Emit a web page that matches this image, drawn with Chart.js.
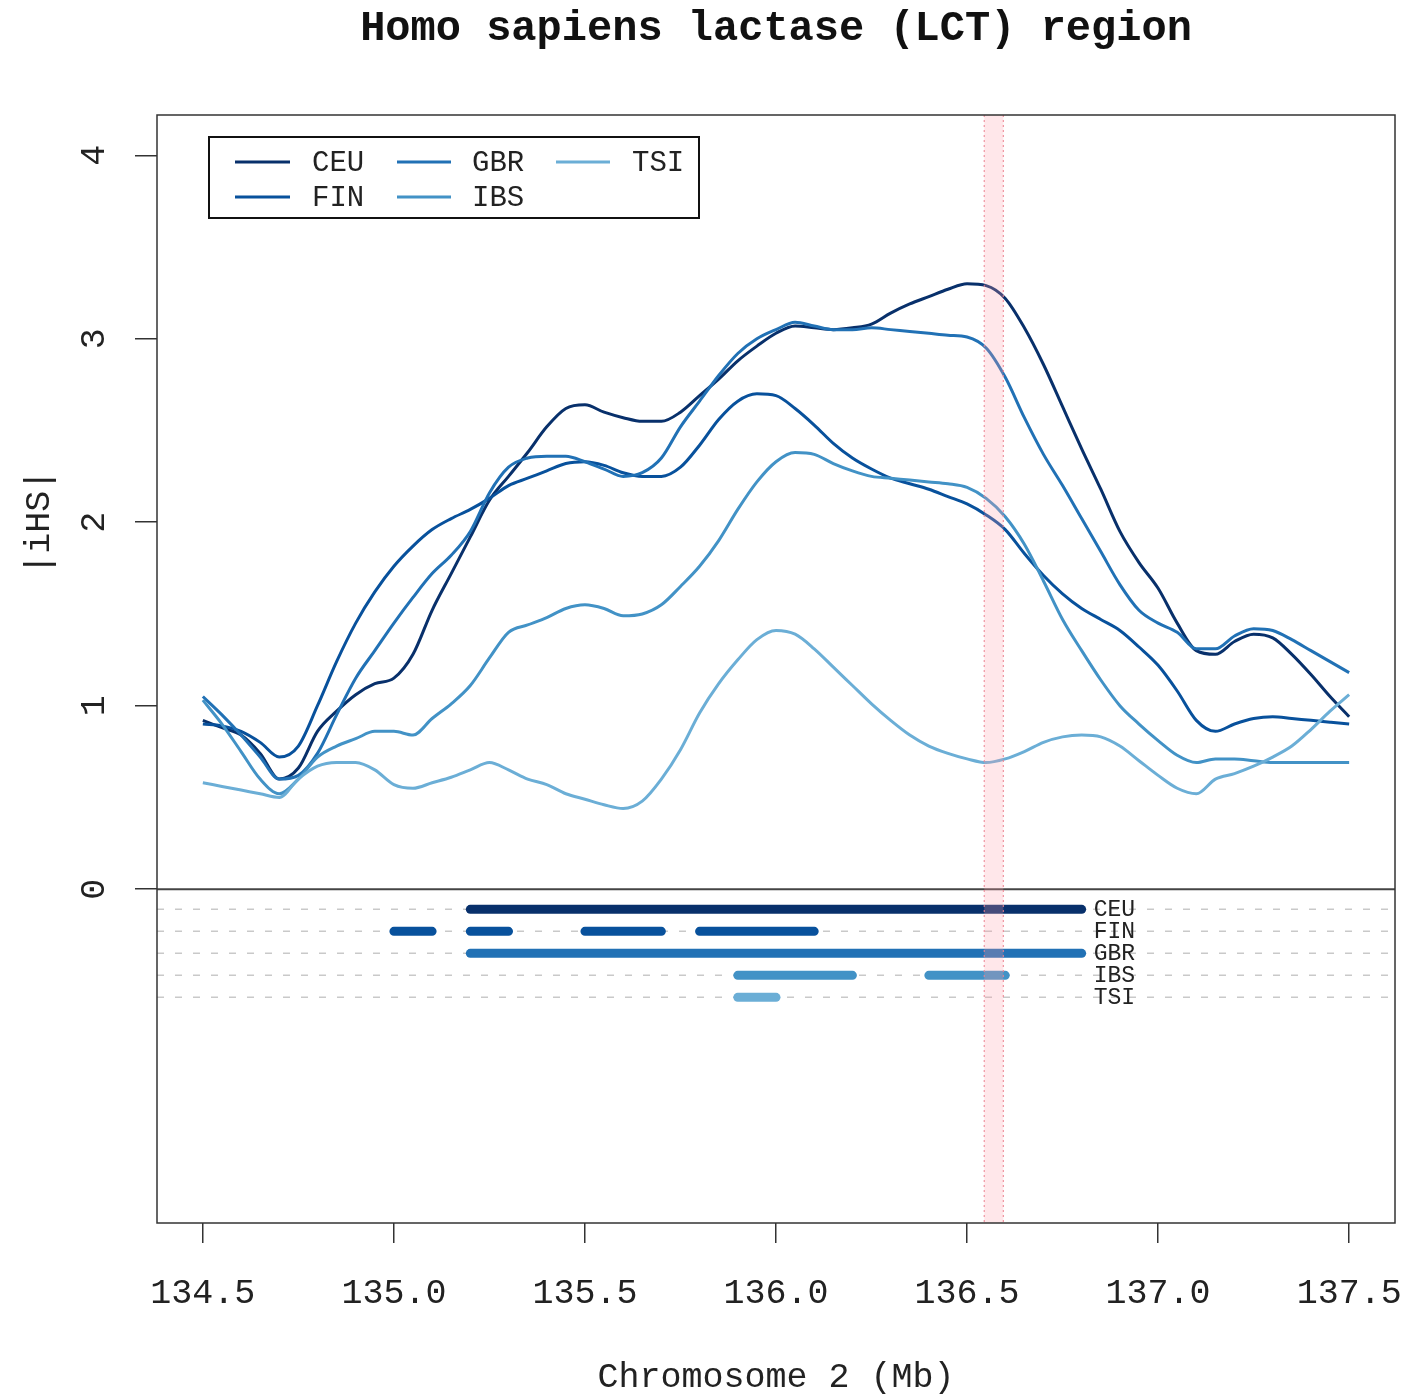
<!DOCTYPE html>
<html><head><meta charset="utf-8">
<script src="https://cdn.jsdelivr.net/npm/chart.js@4.4.1/dist/chart.umd.min.js"></script>
<style>html,body{margin:0;padding:0;background:#fff;}canvas{display:block}</style>
</head><body>
<canvas id="c" width="1408" height="1397"></canvas>
<script>
// ---------- data ----------
const positions = [134.50,134.55,134.60,134.65,134.70,134.75,134.80,134.85,134.90,134.95,
  135.00,135.05,135.10,135.15,135.20,135.25,135.30,135.35,135.40,135.45,
  135.50,135.55,135.60,135.65,135.70,135.75,135.80,135.85,135.90,135.95,
  136.00,136.05,136.10,136.15,136.20,136.25,136.30,136.35,136.40,136.45,
  136.50,136.55,136.60,136.65,136.70,136.75,136.80,136.85,136.90,136.95,
  137.00,137.05,137.10,137.15,137.20,137.25,137.30,137.35,137.40,137.45,137.50];

const populations = ['CEU','FIN','GBR','IBS','TSI'];
const popColors = ['#08306B','#08519C','#2171B5','#4292C6','#6BAED6'];

const ceuIHS = [0.92,0.88,0.84,0.74,0.60,0.66,0.86,0.97,1.06,1.12,
  1.15,1.28,1.52,1.72,1.92,2.12,2.25,2.38,2.52,2.62,
  2.64,2.60,2.57,2.55,2.55,2.60,2.69,2.78,2.88,2.96,
  3.03,3.07,3.06,3.05,3.06,3.08,3.14,3.19,3.23,3.27,
  3.30,3.29,3.22,3.06,2.86,2.63,2.40,2.18,1.95,1.78,
  1.64,1.45,1.30,1.28,1.35,1.39,1.37,1.28,1.17,1.05,0.94];

const finIHS = [0.90,0.89,0.86,0.80,0.72,0.78,1.00,1.24,1.45,1.62,
  1.76,1.87,1.96,2.02,2.07,2.13,2.20,2.24,2.28,2.32,
  2.33,2.31,2.27,2.25,2.25,2.30,2.42,2.56,2.66,2.70,
  2.69,2.62,2.53,2.43,2.35,2.29,2.24,2.21,2.18,2.14,
  2.10,2.04,1.96,1.83,1.71,1.61,1.53,1.47,1.41,1.32,
  1.22,1.08,0.92,0.86,0.90,0.93,0.94,0.93,0.92,0.91,0.90];

const gbrIHS = [1.05,0.95,0.84,0.72,0.60,0.62,0.74,0.95,1.15,1.30,
  1.45,1.59,1.72,1.82,1.95,2.16,2.30,2.35,2.36,2.36,
  2.33,2.29,2.25,2.27,2.35,2.52,2.66,2.80,2.92,3.00,
  3.05,3.09,3.07,3.05,3.05,3.06,3.05,3.04,3.03,3.02,
  3.01,2.95,2.79,2.57,2.37,2.20,2.02,1.84,1.66,1.52,
  1.45,1.40,1.31,1.31,1.38,1.42,1.41,1.36,1.30,1.24,1.18];

const ibsIHS = [1.03,0.90,0.75,0.60,0.52,0.60,0.72,0.78,0.82,0.86,
  0.86,0.84,0.93,1.01,1.11,1.26,1.40,1.44,1.48,1.53,
  1.55,1.53,1.49,1.50,1.55,1.65,1.76,1.90,2.07,2.22,
  2.33,2.38,2.37,2.32,2.28,2.25,2.24,2.23,2.22,2.21,
  2.19,2.13,2.03,1.88,1.68,1.47,1.30,1.14,1.00,0.90,
  0.81,0.73,0.69,0.71,0.71,0.70,0.69,0.69,0.69,0.69,0.69];

const tsiIHS = [0.58,0.56,0.54,0.52,0.50,0.60,0.67,0.69,0.69,0.65,
  0.57,0.55,0.58,0.61,0.65,0.69,0.65,0.60,0.57,0.52,
  0.49,0.46,0.44,0.48,0.60,0.76,0.96,1.12,1.25,1.36,
  1.41,1.39,1.31,1.21,1.11,1.01,0.92,0.84,0.78,0.74,
  0.71,0.69,0.71,0.75,0.80,0.83,0.84,0.83,0.78,0.70,
  0.62,0.55,0.52,0.60,0.63,0.67,0.72,0.78,0.87,0.97,1.06];

// significant windows (Mb) per population
const ceuSegments = [[135.2,136.8]];
const finSegments = [[135.0,135.1],[135.2,135.3],[135.5,135.7],[135.8,136.1]];
const gbrSegments = [[135.2,136.8]];
const ibsSegments = [[135.9,136.2],[136.4,136.6]];
const tsiSegments = [[135.9,136.0]];
const trackRows = [-0.11,-0.23,-0.35,-0.47,-0.59];

const lctGene = [136.545, 136.595];
const xTicks = [134.5,135.0,135.5,136.0,136.5,137.0,137.5];
const yTicks = [0,1,2,3,4];
const xRange = [134.38,137.62];
const yRange = [-1.82,4.22];

const titleText = 'Homo sapiens lactase (LCT) region';
const xTitle = 'Chromosome 2 (Mb)';
const yTitle = '|iHS|';

// ---------- build datasets ----------
const FONT = '"Liberation Mono", "Courier New", monospace';
Chart.defaults.font.family = FONT;

const seriesVals = [ceuIHS, finIHS, gbrIHS, ibsIHS, tsiIHS];
const segmentSets = [ceuSegments, finSegments, gbrSegments, ibsSegments, tsiSegments];

const datasets = [];
// dashed guide rows
trackRows.forEach(r => datasets.push({
  data:[{x:xRange[0],y:r},{x:xRange[1],y:r}],
  borderColor:'#c9c9c9', borderWidth:1.5, borderDash:[7,11], pointRadius:0, order:100
}));
// zero line
datasets.push({data:[{x:xRange[0],y:0},{x:xRange[1],y:0}], borderColor:'#444', borderWidth:2, pointRadius:0, order:90});
// tracks
segmentSets.forEach((segs,i) => {
  const pts = [];
  segs.forEach((s,k) => {
    if (k>0) pts.push({x:(segs[k-1][1]+s[0])/2, y:null});
    pts.push({x:s[0],y:trackRows[i]},{x:s[1],y:trackRows[i]});
  });
  datasets.push({data:pts, borderColor:popColors[i], borderWidth:9, borderCapStyle:'round',
    spanGaps:false, pointRadius:0, order:50});
});
// curves
seriesVals.forEach((vals,i) => datasets.push({
  label:populations[i],
  data:positions.map((x,k)=>({x, y:vals[k]})),
  borderColor:popColors[i], borderWidth:3, pointRadius:0,
  cubicInterpolationMode:'monotone', order:20-i
}));

// ---------- decorations ----------
const decor = {
  id:'decor',
  afterDatasetsDraw(chart){
    const {ctx, chartArea:a, scales:{x,y}} = chart;
    ctx.save();
    // LCT gene band
    const x0 = x.getPixelForValue(lctGene[0]), x1 = x.getPixelForValue(lctGene[1]);
    ctx.fillStyle = 'rgba(255,160,170,0.25)';
    ctx.fillRect(x0, a.top, x1-x0, a.bottom-a.top);
    ctx.strokeStyle = 'rgba(235,130,145,0.85)';
    ctx.lineWidth = 1.2; ctx.setLineDash([2,3]);
    [x0,x1].forEach(px => { ctx.beginPath(); ctx.moveTo(px,a.top); ctx.lineTo(px,a.bottom); ctx.stroke(); });
    ctx.setLineDash([]);
    // frame
    ctx.strokeStyle = '#333'; ctx.lineWidth = 1.5;
    ctx.strokeRect(a.left, a.top, a.right-a.left, a.bottom-a.top);
    // track labels
    ctx.fillStyle = '#222'; ctx.font = '23px ' + FONT;
    ctx.textAlign = 'left'; ctx.textBaseline = 'middle';
    const lx = x.getPixelForValue(ceuSegments[0][1]) + 12;
    populations.forEach((p,i) => ctx.fillText(p, lx, y.getPixelForValue(trackRows[i])+1));
    ctx.restore();
  },
  afterDraw(chart){
    const {ctx, chartArea:a, scales:{y}} = chart;
    ctx.save();
    const cx = (a.left + a.right)/2;
    // title
    ctx.fillStyle = '#111'; ctx.textAlign = 'center'; ctx.textBaseline = 'middle';
    ctx.font = 'bold 42px ' + FONT;
    ctx.fillText(titleText, cx, 29);
    // x title
    ctx.font = '35px ' + FONT; ctx.fillStyle = '#222';
    ctx.fillText(xTitle, cx, 1378);
    // y title
    ctx.save();
    ctx.translate(40, y.getPixelForValue(2));
    ctx.rotate(-Math.PI/2);
    ctx.fillText(yTitle, 0, 0);
    ctx.restore();
    // legend
    const L = {x:209, y:137, w:490, h:81};
    ctx.fillStyle = '#fff'; ctx.fillRect(L.x, L.y, L.w, L.h);
    ctx.strokeStyle = '#111'; ctx.lineWidth = 2; ctx.strokeRect(L.x, L.y, L.w, L.h);
    const cols = [[235,290,312],[397,451,472],[556,610,632]];
    const rows = [162,197];
    ctx.font = '29px ' + FONT; ctx.textAlign = 'left'; ctx.textBaseline = 'middle';
    populations.forEach((p,i) => {
      const c = cols[Math.floor(i/2)], r = rows[i%2];
      ctx.strokeStyle = popColors[i]; ctx.lineWidth = 3;
      ctx.beginPath(); ctx.moveTo(c[0], r); ctx.lineTo(c[1], r); ctx.stroke();
      ctx.fillStyle = '#222'; ctx.fillText(p, c[2], r+1);
    });
    ctx.restore();
  }
};

new Chart(document.getElementById('c'), {
  type:'line',
  data:{datasets},
  options:{
    responsive:false, animation:false, devicePixelRatio:1,
    layout:{padding:{top:115, right:13, left:0, bottom:0}},
    plugins:{legend:{display:false}, tooltip:{enabled:false}, title:{display:false}},
    elements:{point:{radius:0}},
    scales:{
      x:{type:'linear', min:xRange[0], max:xRange[1],
        afterBuildTicks:s => { s.ticks = xTicks.map(v=>({value:v})); },
        afterFit:s => { s.height = 174; s.paddingLeft = 0; s.paddingRight = 0; },
        grid:{drawOnChartArea:false, drawTicks:true, tickLength:20, color:'#333', lineWidth:1.5},
        border:{display:false},
        ticks:{font:{size:35}, color:'#222', padding:30, maxRotation:0, minRotation:0, autoSkip:false,
          callback:v => Number(v).toFixed(1)}
      },
      y:{type:'linear', min:yRange[0], max:yRange[1],
        afterBuildTicks:s => { s.ticks = yTicks.map(v=>({value:v})); },
        afterFit:s => { s.width = 157; s.paddingTop = 0; s.paddingBottom = 0; },
        grid:{drawOnChartArea:false, drawTicks:true, tickLength:22, color:'#333', lineWidth:1.5},
        border:{display:false},
        ticks:{font:{size:35}, color:'#222', padding:30, minRotation:90, maxRotation:90,
          crossAlign:'center', autoSkip:false, callback:v => String(v)}
      }
    }
  },
  plugins:[decor]
});
</script>
</body></html>
